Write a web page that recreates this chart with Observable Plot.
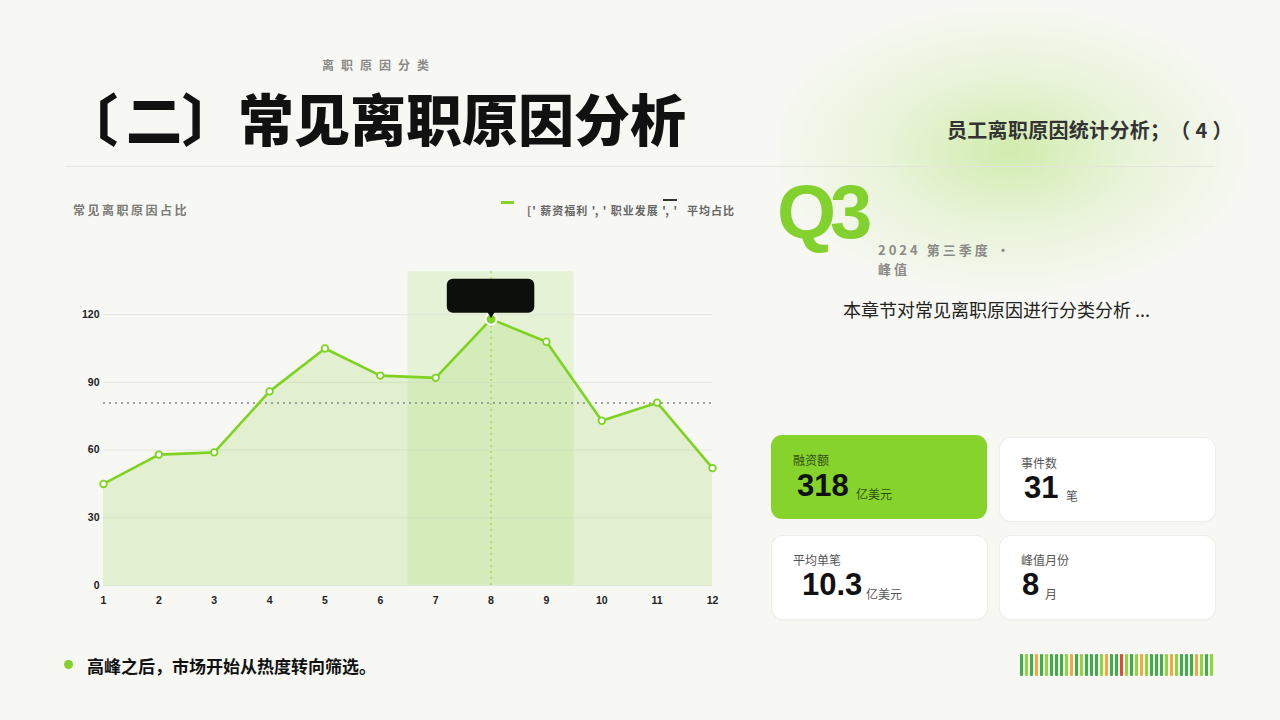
<!DOCTYPE html>
<html><head><meta charset="utf-8">
<script src="https://cdn.jsdelivr.net/npm/d3@7"></script>
<script src="https://cdn.jsdelivr.net/npm/@observablehq/plot@0.6"></script>
<style>
body{margin:0;width:1280px;height:720px;overflow:hidden;background:#f7f8f3;font-family:"Noto Sans CJK SC","Noto Sans",sans-serif;position:relative;text-spacing-trim:space-all}
.a{position:absolute;white-space:nowrap}
.card{position:absolute;border-radius:11px;background:#fff;box-shadow:0 0 0 1px #eeefea,0 1px 3px rgba(0,0,0,0.04)}
.lab{position:absolute;font-size:12px;color:#555;line-height:14px}
.val{position:absolute;font-family:"Liberation Sans",Arial,sans-serif;font-weight:bold;font-size:31px;color:#111;line-height:32px}
.unit{position:absolute;font-size:12px;color:#555;line-height:13px}
</style></head><body>
<div class="a" style="left:780px;top:0px;width:480px;height:300px;background:radial-gradient(ellipse at 48% 50%, rgba(196,232,150,0.75) 0%, rgba(215,238,185,0.45) 35%, rgba(247,248,243,0) 70%)"></div>

<div class="a" style="left:322px;top:57px;font-size:12px;font-weight:bold;color:#8a8a86;letter-spacing:7px;line-height:16px">离职原因分类</div>
<div class="a" style="left:68px;top:89px;font-size:56px;font-weight:900;color:#111;line-height:56px"><span style="margin-left:-6px">〔</span><span style="margin-left:8px">二</span>〕常见离职原因分析</div>
<div class="a" style="left:947px;top:117px;font-size:20px;font-weight:bold;color:#333;letter-spacing:0.3px;line-height:26px">员工离职原因统计分析；（ 4 ）</div>
<div class="a" style="left:65px;top:166px;width:1150px;height:1px;background:#e3e5de"></div>

<div class="a" style="left:73px;top:202px;font-size:12px;font-weight:bold;color:#7a7a76;letter-spacing:2.5px;line-height:16px">常见离职原因占比</div>
<div class="a" style="left:501px;top:201px;width:13px;height:3px;background:#86d42b"></div>
<div class="a" style="left:527px;top:203px;font-size:11px;font-weight:bold;color:#666;letter-spacing:1px;line-height:14px">[' 薪资福利 ', ' 职业发展 ', '</div>
<div class="a" style="left:663px;top:199px;width:14px;height:2px;background:#333"></div>
<div class="a" style="left:687px;top:203px;font-size:11px;font-weight:bold;color:#666;letter-spacing:1px;line-height:14px">平均占比</div>

<div id="chart" class="a" style="left:60px;top:250px"></div>

<div class="a" style="left:777px;top:169px;font-family:'Liberation Sans',Arial,sans-serif;font-size:76px;font-weight:bold;color:#82d12e;letter-spacing:-6px;line-height:86px">Q3</div>
<div class="a" style="left:878px;top:240px;font-size:13px;font-weight:bold;color:#8a8a86;letter-spacing:3px;line-height:19px">2024 第三季度 ·<br>峰值</div>
<div class="a" style="left:843px;top:298px;font-size:18px;color:#222;line-height:23px">本章节对常见离职原因进行分类分析 ...</div>

<div id="cards"></div>

<div class="a" style="left:64px;top:660px;width:9px;height:9px;border-radius:50%;background:#82d12e"></div>
<div class="a" style="left:87px;top:655px;font-size:17px;font-weight:bold;color:#111;line-height:22px">高峰之后，市场开始从热度转向筛选。</div>

<div id="barcode" class="a" style="left:1014px;top:654px"></div>

<script>
// ---- data ----
const months = [1,2,3,4,5,6,7,8,9,10,11,12];
const values = [45,58,59,86,105,93,92,118,108,73,81,52];
const yTicks = [0,30,60,90,120];
const highlightMonths = [7,9];   // Q3
const peakMonth = 8;
const kpiLabels = ["融资额","事件数","平均单笔","峰值月份"];
const kpiValues = ["318","31","10.3","8"];
const kpiUnits  = ["亿美元","笔","亿美元","月"];
const barcodeKinds = ["d","l","d","o","d","l","d","d","d","l","o","d","l","d","d","d","l","o","d","d",
                      "r","l","d","l","o","l","d","d","d","l","o","l","d","d","d","o","l","d","l"];

const data = months.map((m,i)=>({month:m, value:values[i]}));
const avg = d3.mean(values);
const peak = data.find(d=>d.month===peakMonth);
const green = "#7ed321";

const chart = Plot.plot({
  width: 690, height: 368,
  marginLeft: 43, marginRight: 38, marginTop: 19, marginBottom: 33,
  style: {fontFamily:"'Liberation Sans',Arial,sans-serif", fontSize:"10.5px", fontWeight:"bold", color:"#222", background:"transparent", overflow:"visible"},
  x: {domain:[1,12], ticks: months, tickFormat: d=>String(d), tickSize:0, tickPadding:11, label:null},
  y: {domain:[0,140], ticks: yTicks, tickSize:0, tickPadding:4, label:null},
  marks: [
    Plot.rect([{s:highlightMonths[0], e:highlightMonths[1]}], {x1:d=>d.s-0.5, x2:d=>d.e+0.5, y1:0, y2:139, fill:"#c6e8a0", fillOpacity:0.36, rx:3}),
    Plot.ruleY(yTicks, {stroke:"#e2e5dc", strokeWidth:1}),
    Plot.areaY(data, {x:"month", y:"value", fill:"#9ad85a", fillOpacity:0.22}),
    Plot.ruleY([avg], {stroke:"#888", strokeWidth:1.5, strokeDasharray:"2,4"}),
    Plot.ruleX([peak], {x:"month", y1:0, y2:139, stroke:"#8fd84a", strokeWidth:1.2, strokeDasharray:"2,4"}),
    Plot.line(data, {x:"month", y:"value", stroke:green, strokeWidth:2.6}),
    Plot.dot(data.filter(d=>d.month!==peakMonth), {x:"month", y:"value", r:3.3, fill:"#fff", stroke:green, strokeWidth:1.8}),
    Plot.dot([peak], {x:"month", y:"value", r:5.5, fill:green, stroke:"#fff", strokeWidth:2}),
    Plot.rect([peak], {x1:d=>d.month-0.79, x2:d=>d.month+0.79, y1:"value", y2:"value", dy:-23, insetTop:-17, insetBottom:-17, rx:6, fill:"#0d0f0a"}),
    Plot.dot([peak], {x:"month", y:"value", symbol:"triangle", rotate:180, r:4.5, dy:-8, fill:"#0d0f0a"})
  ]
});
document.getElementById("chart").appendChild(chart);

// ---- KPI cards ----
const cardBoxes = [
  {l:771,t:435,w:216,h:84,bg:"#86d42b",lab:[793,453],val:[797,470],unit:[856,487]},
  {l:1000,t:438,w:215,h:83,bg:"#fff",lab:[1021,456],val:[1024,472],unit:[1066,489]},
  {l:772,t:536,w:215,h:83,bg:"#fff",lab:[793,553],val:[802,569],unit:[866,587]},
  {l:1000,t:536,w:215,h:83,bg:"#fff",lab:[1021,553],val:[1022,569],unit:[1045,587]}
];
const cards = document.getElementById("cards");
cardBoxes.forEach((c,i)=>{
  const el = document.createElement("div");
  el.className="card";
  el.style.cssText=`left:${c.l}px;top:${c.t}px;width:${c.w}px;height:${c.h}px;background:${c.bg};`+(i===0?"box-shadow:none;":"");
  cards.appendChild(el);
  const lab=document.createElement("div"); lab.className="lab"; lab.textContent=kpiLabels[i];
  lab.style.left=c.lab[0]+"px"; lab.style.top=c.lab[1]+"px"; if(i===0) lab.style.color="#2f4d12";
  const val=document.createElement("div"); val.className="val"; val.textContent=kpiValues[i];
  val.style.left=c.val[0]+"px"; val.style.top=c.val[1]+"px";
  const un=document.createElement("div"); un.className="unit"; un.textContent=kpiUnits[i];
  un.style.left=c.unit[0]+"px"; un.style.top=c.unit[1]+"px"; if(i===0) un.style.color="#2f4d12";
  cards.append(lab,val,un);
});

// ---- barcode ----
const kindColor = {d:"#3fae49", l:"#8fd53c", o:"#f0a840", r:"#e2483a"};
const bars = barcodeKinds.map((k,i)=>({i,k}));
const barcode = Plot.plot({
  width: 204, height: 22, margin: 0,
  style:{background:"transparent"},
  x:{type:"band", domain:bars.map(d=>d.i), padding:0.4, axis:null},
  y:{domain:[0,1], axis:null},
  color:{type:"categorical", domain:Object.keys(kindColor), range:Object.values(kindColor)},
  marks:[Plot.barY(bars, {x:"i", y1:0, y2:1, fill:"k", rx:1})]
});
document.getElementById("barcode").appendChild(barcode);
</script>
</body></html>
